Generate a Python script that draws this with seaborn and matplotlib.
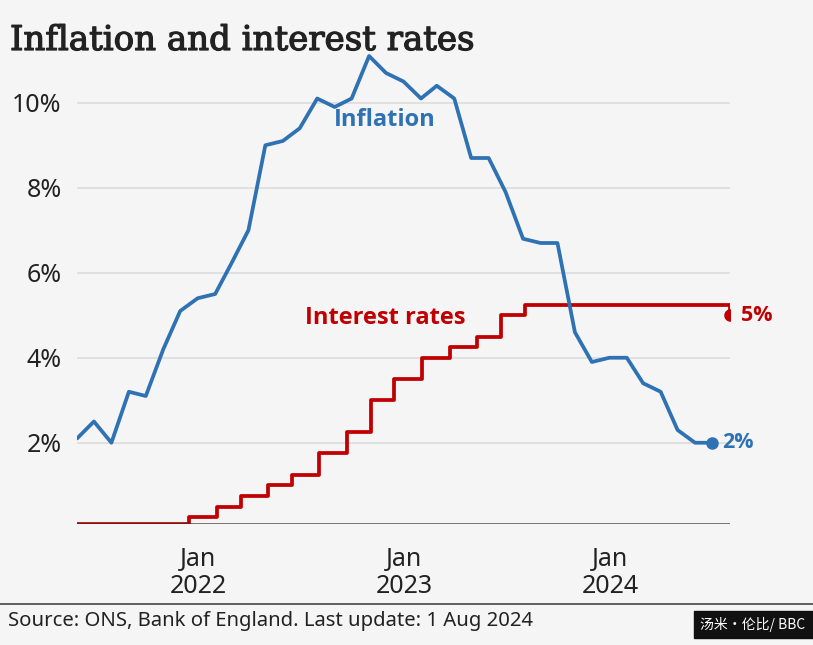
import matplotlib
matplotlib.use("Agg")
import matplotlib.pyplot as plt
import matplotlib.patheffects as pe
from matplotlib.patches import Rectangle
from matplotlib.lines import Line2D
import seaborn as sns
import pandas as pd

# ---- data ----
inflation_months = pd.date_range("2021-05-31", periods=38, freq="ME")
inflation_values = [2.1, 2.5, 2.0, 3.2, 3.1, 4.2, 5.1, 5.4, 5.5, 6.2, 7.0, 9.0,
                    9.1, 9.4, 10.1, 9.9, 10.1, 11.1, 10.7, 10.5, 10.1, 10.4, 10.1, 8.7,
                    8.7, 7.9, 6.8, 6.7, 6.7, 4.6, 3.9, 4.0, 4.0, 3.4, 3.2, 2.3,
                    2.0, 2.0]
rate_dates = pd.to_datetime(["2021-05-31", "2021-12-16", "2022-02-03", "2022-03-17",
                             "2022-05-05", "2022-06-16", "2022-08-04", "2022-09-22",
                             "2022-11-03", "2022-12-15", "2023-02-02", "2023-03-23",
                             "2023-05-11", "2023-06-22", "2023-08-03", "2024-08-01"])
rate_values = [0.1, 0.25, 0.5, 0.75, 1.0, 1.25, 1.75, 2.25, 3.0, 3.5, 4.0, 4.25,
               4.5, 5.0, 5.25, 5.0]
y_ticks = [2, 4, 6, 8, 10]
y_tick_labels = ["2%", "4%", "6%", "8%", "10%"]
x_ticks = pd.to_datetime(["2022-01-01", "2023-01-01", "2024-01-01"])
x_tick_labels = ["Jan\n2022", "Jan\n2023", "Jan\n2024"]

title = "Inflation and interest rates"
source = "Source: ONS, Bank of England. Last update: 1 Aug 2024"
credit = "汤米·伦比/ BBC"

infl_df = pd.DataFrame({"date": inflation_months, "value": inflation_values})
rate_df = pd.DataFrame({"date": rate_dates, "value": rate_values})

BLUE = "#2f72b4"
RED = "#c00000"
BG = "#f5f5f5"
W, H = 813, 645
BOLD_FAM = ["Open Sans", "DejaVu Sans"]

sns.set_style("white")
plt.rcParams["font.family"] = ["Noto Sans", "DejaVu Sans"]

fig = plt.figure(figsize=(W / 100, H / 100), dpi=100, facecolor=BG)
ax = fig.add_axes([77 / W, 1 - 523.5 / H, (730 - 77) / W, (523.5 - 39) / H])
ax.set_facecolor(BG)

for s in ax.spines.values():
    s.set_visible(False)

ax.set_xlim(pd.Timestamp("2021-05-31"), pd.Timestamp("2024-08-01"))
ax.set_ylim(0.1, 11.5)

for yv in y_ticks:
    ax.axhline(yv, color="#dadada", lw=1.1, zorder=0)

sns.lineplot(data=rate_df, x="date", y="value", ax=ax, color=RED, lw=2.7,
             drawstyle="steps-post", zorder=3)
sns.lineplot(data=infl_df, x="date", y="value", ax=ax, color=BLUE, lw=2.7,
             zorder=4)
ax.axhline(0.1, color="#333333", lw=1.8, zorder=5, alpha=0.85)

ax.plot([rate_dates[-1]], [rate_values[-1]], "o", color=RED, ms=8, zorder=6)
ax.plot([inflation_months[-1]], [inflation_values[-1]], "o", color=BLUE, ms=8, zorder=6)

ax.annotate("5%", (rate_dates[-1], rate_values[-1]), xytext=(8, 0),
            textcoords="offset points", va="center", ha="left",
            color=RED, fontsize=15.5, fontweight="bold", family=BOLD_FAM)
ax.annotate("2%", (inflation_months[-1], inflation_values[-1]), xytext=(7, 0),
            textcoords="offset points", va="center", ha="left",
            color=BLUE, fontsize=15.5, fontweight="bold", family=BOLD_FAM)

ax.text(pd.Timestamp("2022-11-28"), 9.59, "Inflation", color=BLUE, fontsize=17,
        fontweight="bold", ha="center", va="center", family=BOLD_FAM)
ax.text(pd.Timestamp("2022-11-28"), 4.93, "Interest rates", color=RED, fontsize=17,
        fontweight="bold", ha="center", va="center", family=BOLD_FAM)

ax.set_yticks(y_ticks)
ax.set_yticklabels(y_tick_labels)
ax.set_xticks(x_ticks)
ax.set_xticklabels(x_tick_labels, linespacing=1.1)
ax.tick_params(axis="y", length=0, pad=11, labelsize=18, labelcolor="#222222")
ax.tick_params(axis="x", length=7, width=1, color="#444444", pad=10,
               labelsize=18, labelcolor="#222222")
ax.set_xlabel("")
ax.set_ylabel("")

fig.text(10 / W, 1 - 41 / H, title, fontsize=24.5, family="DejaVu Serif",
         color="#222222", va="center", ha="left",
         path_effects=[pe.withStroke(linewidth=0.9, foreground="#222222")])

fig.add_artist(Line2D([0, 1], [1 - 604 / H] * 2, color="#444444", lw=1.2))
fig.text(8 / W, 1 - 621 / H, source, fontsize=14.6, color="#222222",
         va="center", ha="left")
fig.add_artist(Rectangle((694 / W, 1 - 638 / H), (813 - 694) / W, 27 / H,
                         color="#111111", transform=fig.transFigure))
fig.text(753 / W, 1 - 624.5 / H, credit, fontsize=10, color="white",
         va="center", ha="center",
         family=["Noto Sans CJK SC", "DejaVu Sans"])

fig.savefig("out.png", dpi=100, facecolor=BG)
